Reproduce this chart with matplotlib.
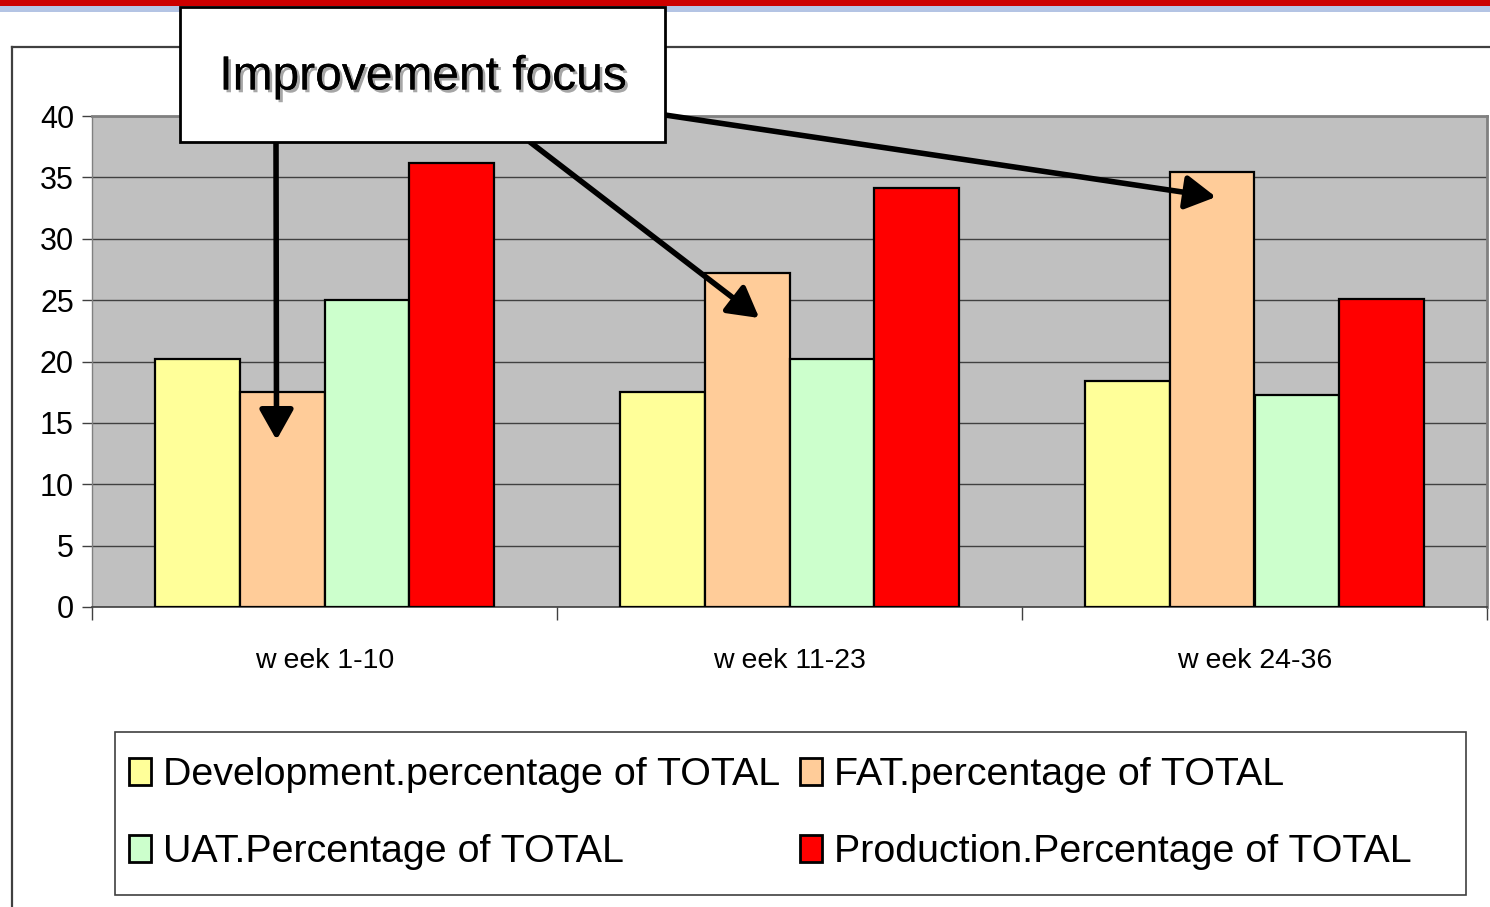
import matplotlib
matplotlib.use("Agg")
import matplotlib.pyplot as plt
import matplotlib.patheffects as pe
from matplotlib.patches import Rectangle
from matplotlib.lines import Line2D
import numpy as np

categories = ["w eek 1-10", "w eek 11-23", "w eek 24-36"]
series_names = ["Development.percentage of TOTAL", "FAT.percentage of TOTAL",
                "UAT.Percentage of TOTAL", "Production.Percentage of TOTAL"]
development = [20.2, 17.5, 18.4]
fat = [17.5, 27.2, 35.4]
uat = [25.0, 20.2, 17.3]
production = [36.2, 34.1, 25.1]
y_ticks = [0, 5, 10, 15, 20, 25, 30, 35, 40]
annotation_text = "Improvement focus"

colors = ["#FFFF99", "#FFCC99", "#CCFFCC", "#FF0000"]

plt.rcParams['font.family'] = ["Liberation Sans", 'DejaVu Sans']

W, H = 1490, 907
fig = plt.figure(figsize=(W / 100, H / 100), dpi=100)

def fx(px):
    return px / W

def fy(py):
    return 1 - py / H

# top decorative strips
fig.patches.append(Rectangle((0, fy(6)), 1, 6 / H, transform=fig.transFigure,
                             facecolor="#CC0000", edgecolor="none", zorder=0))
fig.patches.append(Rectangle((0, fy(12)), 1, 6 / H, transform=fig.transFigure,
                             facecolor="#B4C4E4", edgecolor="none", zorder=0))
# outer chart frame
fig.add_artist(Line2D([fx(12), 1], [fy(47), fy(47)], transform=fig.transFigure,
                      color="#404040", lw=1.6))
fig.add_artist(Line2D([fx(12), fx(12)], [fy(47), 0], transform=fig.transFigure,
                      color="#404040", lw=1.6))

ax = fig.add_axes([fx(92), fy(607), fx(1487) - fx(92), fy(116) - fy(607)])
ax.set_facecolor("#C0C0C0")

x = np.arange(len(categories))
bw = 0.182
data = [development, fat, uat, production]
for i, (vals, c, name) in enumerate(zip(data, colors, series_names)):
    ax.bar(x + (i - 1.5) * bw, vals, width=bw, color=c, edgecolor="black",
           linewidth=1.6, label=name, zorder=3)

ax.set_xlim(-0.5, 2.5)
ax.set_ylim(0, 40)
ax.set_yticks(y_ticks)
ax.set_yticklabels([str(t) for t in y_ticks], fontsize=22)
ax.yaxis.grid(True, color="#404040", lw=1.0, zorder=1)
ax.set_axisbelow(True)
ax.set_xticks(x)
ax.set_xticklabels(categories, fontsize=20.5)
ax.set_xticks([-0.5, 0.5, 1.5, 2.5], minor=True)
ax.tick_params(axis="x", which="major", length=0, pad=29.5)
ax.tick_params(axis="x", which="minor", length=9, width=1, color="#404040")
ax.tick_params(axis="y", length=7, width=1, color="#404040", pad=6)
for s in ["top", "right"]:
    ax.spines[s].set_color("#808080")
    ax.spines[s].set_linewidth(2)
ax.spines["left"].set_color("#808080")
ax.spines["left"].set_linewidth(1)
ax.spines["bottom"].set_color("#404040")
ax.spines["bottom"].set_linewidth(1.2)

# legend frame
fig.patches.append(Rectangle((fx(115), fy(895)), fx(1466) - fx(115), fy(732) - fy(895),
                             transform=fig.transFigure, facecolor="white",
                             edgecolor="#404040", lw=1.2, zorder=1))
handles, labels = ax.get_legend_handles_labels()
order = [0, 2, 1, 3]
leg = fig.legend([handles[i] for i in order], [labels[i] for i in order],
                 loc="upper left", bbox_to_anchor=(fx(129), fy(757)),
                 ncol=2, fontsize=28.4, frameon=False,
                 handlelength=0.56, handleheight=0.67,
                 handletextpad=0.3, borderaxespad=0, labelspacing=1.05,
                 borderpad=0, columnspacing=0.5)
leg.set_zorder(2)
for h in leg.legend_handles:
    h.set_linewidth(2)

# annotation box
fig.patches.append(Rectangle((fx(180), fy(142)), fx(665) - fx(180), fy(7) - fy(142),
                             transform=fig.transFigure, facecolor="white",
                             edgecolor="black", lw=2, zorder=10))
fig.text(fx(423), fy(77), annotation_text, ha="center", va="center",
         fontsize=34.5, zorder=11,
         path_effects=[pe.withSimplePatchShadow(offset=(2, -2), shadow_rgbFace="#808080", alpha=0.7),
                       pe.Normal()])

def to_data(px, py):
    return ((px - 324) / 465.3, (607 - py) / 12.275)

arrows = [((276, 142), (276, 440)), ((530, 142), (759, 318)), ((665, 115), (1216, 197))]
for (sx, sy), (tx, ty) in arrows:
    ax.annotate("", xy=to_data(tx, ty), xycoords="data",
                xytext=(fx(sx), fy(sy)), textcoords="figure fraction",
                annotation_clip=False,
                arrowprops=dict(arrowstyle="-|>,head_length=0.8,head_width=0.45",
                                lw=4, color="black", mutation_scale=23,
                                shrinkA=0, shrinkB=0), zorder=9)

fig.savefig("out.png", dpi=100)
